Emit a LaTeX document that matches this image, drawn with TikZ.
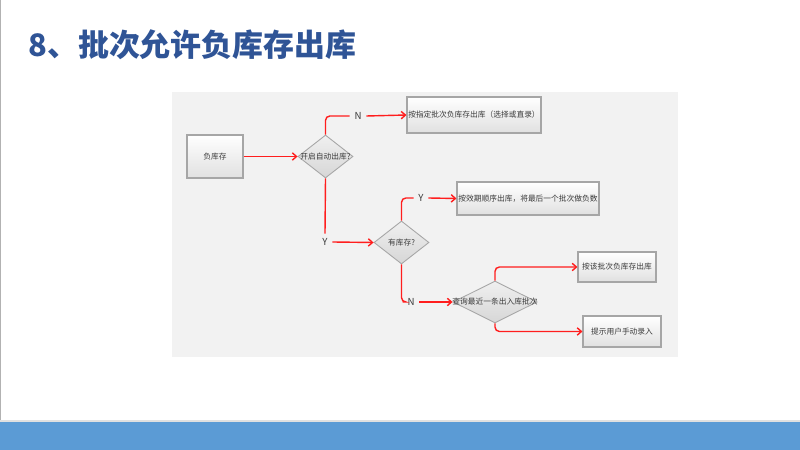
\documentclass[tikz,border=0pt]{standalone}
\usepackage{fontspec}
\newfontfamily\cjk{Noto Sans CJK SC}
\usetikzlibrary{shapes.geometric,arrows.meta}

\definecolor{titleblue}{HTML}{2F5496}
\definecolor{bandblue}{HTML}{5B9BD5}
\definecolor{panelgray}{HTML}{F2F2F2}
\definecolor{edgegray}{HTML}{A6A6A6}
\definecolor{textgray}{HTML}{3A3A3A}
\definecolor{flowred}{HTML}{FF1E1E}

\begin{document}
\begin{tikzpicture}[x=0.2mm, y=-0.2mm,
    box/.style={draw=edgegray, line width=0.6pt, top color=white, bottom color=black!12,
      inner sep=0pt, text=textgray, font=\cjk\fontsize{4.4}{5}\selectfont},
    decision/.style={diamond, draw=edgegray, line width=0.5pt, top color=black!6, bottom color=black!16,
      inner sep=0pt, text=textgray, font=\cjk\fontsize{4.4}{5}\selectfont},
    yn/.style={inner sep=2.6pt, text=textgray, font=\cjk\fontsize{5.5}{6}\selectfont},
    flow/.style={draw=flowred, line width=0.8pt, rounded corners=2.5pt},
    flowarrow/.style={flow, -{Straight Barb[length=2.4pt,width=4.2pt]}}]
    \useasboundingbox (0,0) rectangle (800,450);
    \fill[white] (0,0) rectangle (800,450);
    \draw[black!30, line width=0.5pt] (0.5,0) -- (0.5,421);

    % title and bottom band
    \node[anchor=west, inner sep=0pt, text=titleblue, font=\cjk\bfseries\fontsize{17.6}{20}\selectfont] (title) at (28,45) {8、批次允许负库存出库};
    \fill[bandblue] (0,421) rectangle (800,450);
    \draw[black!12, line width=0.6pt] (0,421) -- (800,421);

    % panel
    \fill[panelgray] (172,92) rectangle (678,357);

    \node[box, minimum width=11.2mm, minimum height=8.6mm] (neg) at (215,156.5) {负库存};
    \node[decision, minimum width=11mm, minimum height=8.6mm] (auto) at (325.5,156.5) {\makebox[0pt]{开启自动出库?}};
    \node[box, minimum width=26.8mm, minimum height=7.2mm] (manual) at (474,115) {按指定批次负库存出库（选择或直录）};
    \node[decision, minimum width=11mm, minimum height=8.6mm] (stock) at (401.5,242.5) {\makebox[0pt]{有库存?}};
    \node[box, minimum width=28.4mm, minimum height=6.6mm] (expiry) at (528,198.5) {按效期顺序出库，将最后一个批次做负数};
    \node[decision, minimum width=16.8mm, minimum height=8.4mm] (query) at (495,302) {\makebox[0pt]{查询最近一条出入库批次}};
    \node[box, minimum width=15.6mm, minimum height=6mm] (batch) at (617,267) {按该批次负库存出库};
    \node[box, minimum width=15.6mm, minimum height=6.2mm] (prompt) at (622,331.5) {提示用户手动录入};

    \node[yn] (autoN) at (358,116) {N};
    \node[yn] (autoY) at (325,242) {Y};
    \node[yn] (stockY) at (421,198) {Y};
    \node[yn] (stockN) at (411,302) {N};

    \draw[flowarrow] (neg.east) -- (auto.west);
    \draw[flow] (auto.north) |- (autoN.west);
    \draw[flowarrow] (autoN.east) -- (manual.west);
    \draw[flow] (auto.south) -- (autoY.north);
    \draw[flowarrow] (autoY.east) -- (stock.west);
    \draw[flow] (stock.north) |- (stockY.west);
    \draw[flowarrow] (stockY.east) -- (expiry.west);
    \draw[flow] (stock.south) |- (stockN.west);
    \draw[flowarrow] (stockN.east) -- (query.west);
    \draw[flowarrow] (query.north) |- (batch.west);
    \draw[flowarrow] (query.south) |- (prompt.west);
\end{tikzpicture}
\end{document}
